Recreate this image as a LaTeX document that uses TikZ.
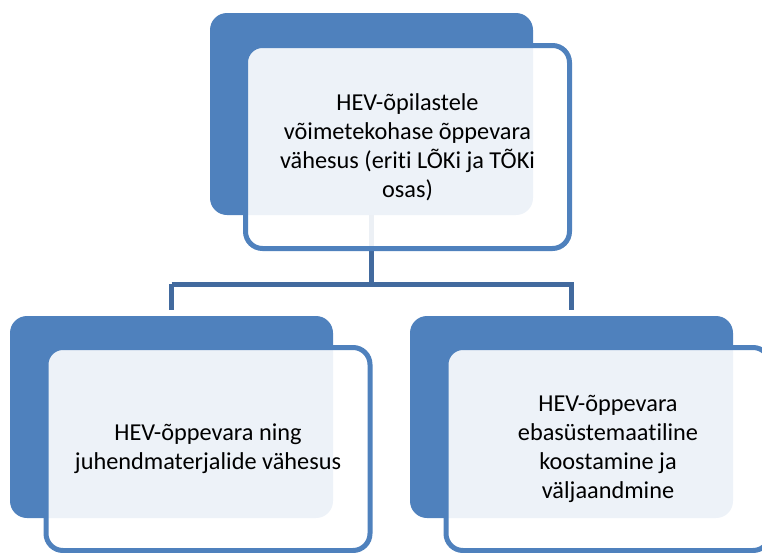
\documentclass[tikz,border=0pt]{standalone}
\usepackage{fontspec}
\setmainfont{Carlito}[Ligatures={NoCommon,NoRequired,NoContextual}]
\usetikzlibrary{backgrounds}
\definecolor{accblue}{RGB}{79,129,189}
\definecolor{connblue}{RGB}{66,106,158}
\newcommand{\noti}{t\kern0pt i}
\tikzset{
  backbox/.style={rectangle, fill=accblue, draw=none, rounded corners=17pt,
    minimum width=323pt, minimum height=202pt, inner sep=0pt},
  frontbox/.style={rectangle, fill=white, fill opacity=0.9, text opacity=1,
    draw=accblue, draw opacity=1, line width=5pt, rounded corners=17pt,
    minimum width=324pt, minimum height=203pt, inner sep=0pt,
    align=center, font=\fontsize{24.3pt}{29pt}\selectfont},
  conn/.style={draw=connblue, line width=5pt, line join=miter}
}
\begin{document}
\begin{tikzpicture}[x=1pt,y=-1pt]
\useasboundingbox (0,0) rectangle (762,552);
\clip (0,0) rectangle (762,552);
% back boxes
\node[backbox] (b1) at (371.5,114) {};
\node[backbox] (b2) at (171.5,417) {};
\node[backbox] (b3) at (571.5,417) {};
% connectors behind the boxes
\coordinate (j) at (371.5,284);
\begin{scope}[on background layer]
\draw[conn] (b1.center) -- (j);
\draw[conn, shorten >=6pt] (b2.north |- j) -| (b2.north);
\draw[conn, shorten >=6pt] (b2.north |- j) -| (b3.north);
\end{scope}
% front boxes
\node[frontbox] (t1) at (407.5,147) {HEV-õpilastele\\võimetekohase õppevara\\vähesus (eri\noti{} LÕKi ja TÕKi\\osas)};
\node[frontbox] (t2) at (208,449) {HEV-õppevara ning\\juhendmaterjalide vähesus};
\node[frontbox] (t3) at (608,449) {HEV-õppevara\\ebasüstemaa\noti line\\koostamine ja\\väljaandmine};
\end{tikzpicture}
\end{document}
